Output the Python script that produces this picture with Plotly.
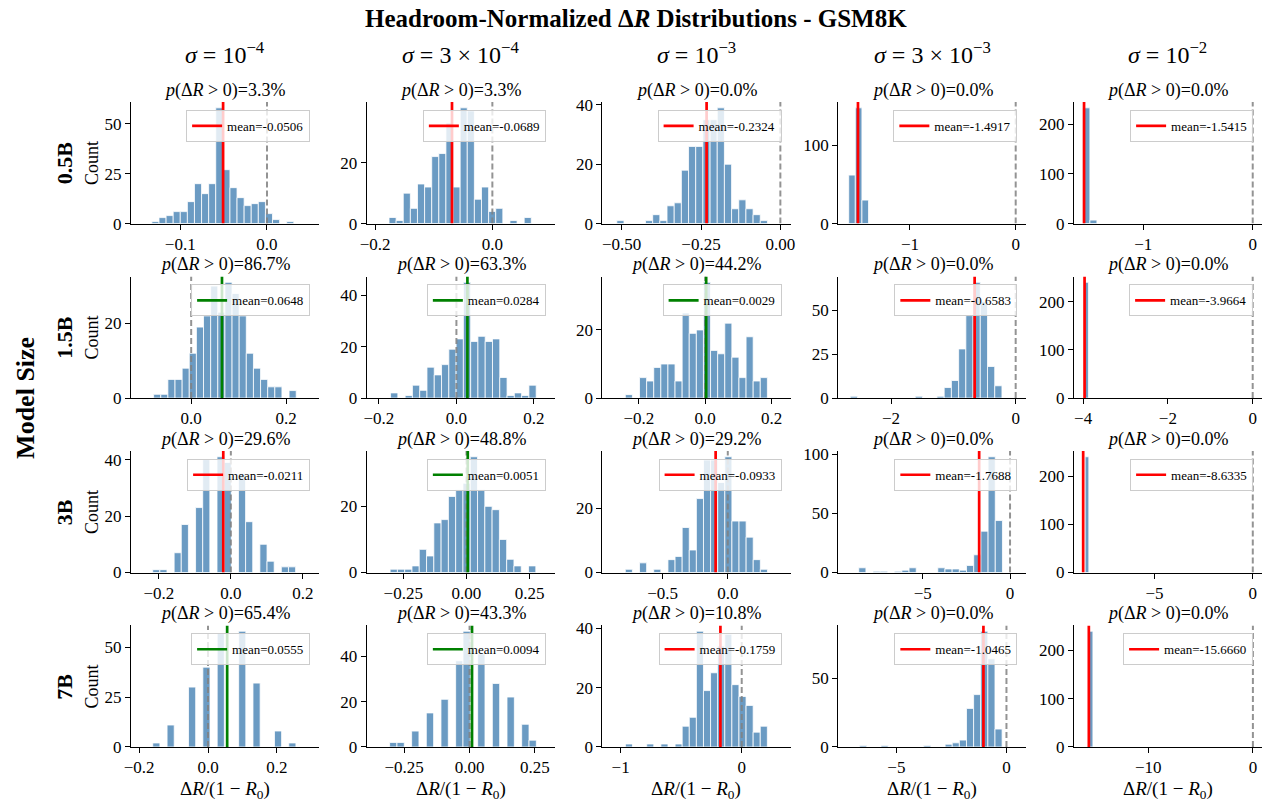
import plotly.graph_objects as go

# ---------------------------------------------------------------- data
MODELS = ["0.5B", "1.5B", "3B", "7B"]
SIGMAS = [
    "<i>σ</i> = 10<sup>−4</sup>",
    "<i>σ</i> = 3 × 10<sup>−4</sup>",
    "<i>σ</i> = 10<sup>−3</sup>",
    "<i>σ</i> = 3 × 10<sup>−3</sup>",
    "<i>σ</i> = 10<sup>−2</sup>",
]

# mean of headroom-normalized ΔR per (model, sigma)
MEAN_05B = [-0.0506, -0.0689, -0.2324, -1.4917, -1.5415]
MEAN_15B = [0.0648, 0.0284, 0.0029, -0.6583, -3.9664]
MEAN_3B = [-0.0211, 0.0051, -0.0933, -1.7688, -8.6335]
MEAN_7B = [0.0555, 0.0094, -0.1759, -1.0465, -15.6660]

# share of samples with ΔR > 0 (percent)
PPOS_05B = [3.3, 3.3, 0.0, 0.0, 0.0]
PPOS_15B = [86.7, 63.3, 44.2, 0.0, 0.0]
PPOS_3B = [29.6, 48.8, 29.2, 0.0, 0.0]
PPOS_7B = [65.4, 43.3, 10.8, 0.0, 0.0]

# histogram bins: centre of first bin, bin width, counts per bin
BIN_START_05B = [-0.1286, -0.1703, -0.504, -1.548, -1.52]
BIN_WIDTH_05B = [0.00818, 0.01214, 0.0226, 0.0625, 0.064]
COUNTS_05B = [
    [1, 3, 4, 6, 6, 11, 20, 15, 20, 58, 27, 18, 13, 9, 10, 11, 5, 2, 0, 1],
    [2, 1, 10, 5, 13, 12, 22, 23, 33, 12, 38, 37, 8, 12, 4, 5, 0, 1, 0, 2],
    [1, 0, 0, 0, 1, 3, 1, 6, 7, 18, 26, 26, 35, 35, 39, 20, 5, 8, 5, 3, 1],
    [62, 148, 30],
    [233, 7],
]

BIN_START_15B = [-0.0715, -0.1606, -0.23, -2.596, -3.92]
BIN_WIDTH_15B = [0.015, 0.0188, 0.0214, 0.1159, 0.09]
COUNTS_15B = [
    [1, 1, 5, 5, 8, 12, 19, 22, 30, 23, 31, 28, 22, 12, 8, 5, 3, 3, 0, 2],
    [2, 0, 1, 5, 3, 12, 9, 13, 19, 23, 45, 22, 24, 22, 23, 8, 1, 2, 1, 5],
    [1, 0, 6, 5, 9, 10, 10, 5, 25, 19, 20, 34, 14, 13, 22, 12, 6, 18, 5, 6],
    [1, 0, 0, 0, 0, 0, 0, 0, 0, 1, 0, 0, 1, 6, 10, 28, 47, 66, 55, 18, 7],
    [240],
]

BIN_START_3B = [-0.2073, -0.2875, -0.760, -8.46, -8.44]
BIN_WIDTH_3B = [0.01986, 0.0288, 0.0546, 0.4116, 0.19]
COUNTS_3B = [
    [1, 1, 0, 7, 17, 0, 23, 40, 0, 41, 39, 0, 35, 18, 0, 10, 4, 0, 2, 2],
    [1, 1, 1, 2, 7, 5, 15, 16, 23, 25, 27, 35, 25, 20, 19, 10, 4, 2, 0, 2],
    [1, 0, 3, 0, 1, 0, 4, 5, 14, 7, 23, 35, 35, 28, 36, 16, 16, 11, 4, 1],
    [4, 0, 1, 1, 0, 1, 2, 4, 0, 0, 0, 4, 3, 3, 2, 6, 15, 35, 98, 44],
    [240],
]

BIN_START_7B = [-0.150, -0.2918, -0.931, -6.508, -15.45]
BIN_WIDTH_7B = [0.02077, 0.02807, 0.0586, 0.3236, 0.35]
COUNTS_7B = [
    [2, 0, 11, 0, 0, 30, 0, 40, 0, 57, 0, 0, 58, 0, 32, 0, 0, 8, 0, 2],
    [2, 2, 0, 7, 0, 15, 0, 21, 0, 38, 51, 0, 41, 0, 28, 0, 22, 0, 10, 3],
    [1, 0, 0, 1, 0, 1, 0, 1, 7, 10, 39, 19, 25, 34, 38, 21, 17, 14, 5, 7],
    [1, 0, 0, 1, 0, 0, 0, 0, 0, 1, 0, 0, 2, 3, 5, 28, 38, 84, 64, 13],
    [240],
]

# axis ticks per panel (values, decimals)
XTICKS = [
    [[-0.1, 0.0], [-0.2, 0.0], [-0.5, -0.25, 0.0], [-1, 0], [-1, 0]],
    [[0.0, 0.2], [-0.2, 0.0, 0.2], [-0.2, 0.0, 0.2], [-2, 0], [-4, -2, 0]],
    [[-0.2, 0.0, 0.2], [-0.25, 0.0, 0.25], [-0.5, 0.0], [-5, 0], [-5, 0]],
    [[-0.2, 0.0, 0.2], [-0.25, 0.0, 0.25], [-1, 0], [-5, 0], [-10, 0]],
]
XDEC = [
    [1, 1, 2, 0, 0],
    [1, 1, 1, 0, 0],
    [1, 2, 1, 0, 0],
    [1, 2, 0, 0, 0],
]
YTICKS = [
    [[0, 25, 50], [0, 20], [0, 20, 40], [0, 100], [0, 100, 200]],
    [[0, 20], [0, 20, 40], [0, 20], [0, 25, 50], [0, 100, 200]],
    [[0, 20, 40], [0, 20], [0, 20], [0, 50, 100], [0, 100, 200]],
    [[0, 25, 50], [0, 20, 40], [0, 20, 40], [0, 50], [0, 100, 200]],
]

# ---------------------------------------------------------------- layout config
W, H = 1269, 805
SERIF = "Liberation Serif, Times New Roman, serif"
XRANGES = [
    [[-0.157, 0.060], [-0.2147, 0.1065], [-0.561, 0.032], [-1.68, 0.10], [-1.635, 0.085]],
    [[-0.127, 0.269], [-0.232, 0.254], [-0.31, 0.257], [-2.85, 0.17], [-4.22, 0.22]],
    [[-0.278, 0.245], [-0.395, 0.349], [-0.964, 0.482], [-9.85, 0.93], [-9.11, 0.47]],
    [[-0.224, 0.322], [-0.394, 0.326], [-1.151, 0.403], [-7.65, 0.90], [-17.1, 0.87]],
]
COL_X0 = [125 + 238 * c for c in range(5)]
AX_W = 190
ROW_TOP = [98 + 178 * r for r in range(4)]
AX_H = 124

MEANS = [MEAN_05B, MEAN_15B, MEAN_3B, MEAN_7B]
PPOS = [PPOS_05B, PPOS_15B, PPOS_3B, PPOS_7B]
BIN_START = [BIN_START_05B, BIN_START_15B, BIN_START_3B, BIN_START_7B]
BIN_WIDTH = [BIN_WIDTH_05B, BIN_WIDTH_15B, BIN_WIDTH_3B, BIN_WIDTH_7B]
COUNTS = [COUNTS_05B, COUNTS_15B, COUNTS_3B, COUNTS_7B]


def px_x(px):
    return px / W


def px_y(py):
    return 1 - py / H


def tick_text(v, d):
    s = f"{abs(v):.{d}f}"
    return ("−" if v < 0 else "") + s


fig = go.Figure()
layout = dict(
    width=W,
    height=H,
    margin=dict(l=0, r=0, t=0, b=0),
    paper_bgcolor="white",
    plot_bgcolor="white",
    barmode="overlay",
    font=dict(family=SERIF, color="black"),
    annotations=[],
)
ann = layout["annotations"]

for r in range(4):
    for c in range(5):
        idx = r * 5 + c + 1
        sfx = "" if idx == 1 else str(idx)
        xa, ya = "x" + sfx, "y" + sfx
        lg = "legend" + sfx

        counts = COUNTS[r][c]
        start, width = BIN_START[r][c], BIN_WIDTH[r][c]
        centers = [start + k * width for k in range(len(counts))]
        ytop = max(counts) * 1.05
        mean = MEANS[r][c]

        fig.add_trace(go.Bar(
            x=centers, y=counts, width=[width] * len(counts),
            marker=dict(color="rgba(70,130,180,0.8)",
                        line=dict(color="white", width=0.8)),
            xaxis=xa, yaxis=ya, showlegend=False, hoverinfo="skip",
        ))
        fig.add_trace(go.Scatter(
            x=[0, 0], y=[0, ytop], mode="lines",
            line=dict(color="rgba(128,128,128,0.85)", width=2, dash="6px,3px"),
            xaxis=xa, yaxis=ya, showlegend=False, hoverinfo="skip",
        ))
        fig.add_trace(go.Scatter(
            x=[mean, mean], y=[0, ytop], mode="lines",
            line=dict(color="green" if mean > 0 else "red", width=2.7),
            name=f"mean={mean:.4f}",
            xaxis=xa, yaxis=ya, legend=lg, showlegend=True, hoverinfo="skip",
        ))

        x0, top = COL_X0[c], ROW_TOP[r]
        axis_common = dict(
            showline=True, linecolor="black", linewidth=1,
            ticks="outside", ticklen=5, tickwidth=1, tickcolor="black",
            showgrid=False, zeroline=False, fixedrange=True,
            tickfont=dict(family=SERIF, size=17, color="black"),
        )
        layout["xaxis" + sfx] = dict(
            domain=[px_x(x0), px_x(x0 + AX_W)], anchor=ya,
            range=XRANGES[r][c],
            tickmode="array", tickvals=XTICKS[r][c],
            ticktext=[tick_text(v, XDEC[r][c]) for v in XTICKS[r][c]],
            **axis_common,
        )
        layout["yaxis" + sfx] = dict(
            domain=[px_y(top + AX_H), px_y(top)], anchor=xa,
            range=[0, ytop],
            tickmode="array", tickvals=YTICKS[r][c],
            ticktext=[str(v) for v in YTICKS[r][c]],
            **axis_common,
        )
        layout[lg] = dict(
            x=px_x(x0 + AX_W - 9), y=px_y(top + 8),
            xanchor="right", yanchor="top",
            bgcolor="rgba(255,255,255,0.8)", bordercolor="#cccccc", borderwidth=1,
            font=dict(family=SERIF, size=13, color="black"),
            itemwidth=30,
        )

        # panel subtitle
        ann.append(dict(
            text=f"<i>p</i>(Δ<i>R</i> > 0)={PPOS[r][c]:.1f}%",
            x=px_x(x0 + AX_W / 2), y=px_y(top - 12),
            xref="paper", yref="paper", xanchor="center", yanchor="middle",
            showarrow=False, font=dict(family=SERIF, size=18, color="black"),
        ))

# column headers and bottom axis titles
for c in range(5):
    ann.append(dict(
        text=SIGMAS[c], x=px_x(COL_X0[c] + AX_W / 2), y=px_y(48),
        xref="paper", yref="paper", xanchor="center", yanchor="middle",
        showarrow=False, font=dict(family=SERIF, size=24, color="black"),
    ))
    ann.append(dict(
        text="Δ<i>R</i>/(1 − <i>R</i><sub>0</sub>)",
        x=px_x(COL_X0[c] + AX_W / 2), y=px_y(800),
        xref="paper", yref="paper", xanchor="center", yanchor="middle",
        showarrow=False, font=dict(family=SERIF, size=19, color="black"),
    ))

# row labels and y-axis titles
for r in range(4):
    yc = px_y(ROW_TOP[r] + AX_H / 2)
    ann.append(dict(
        text=f"<b>{MODELS[r]}</b>", x=px_x(58), y=yc, textangle=-90,
        xref="paper", yref="paper", xanchor="center", yanchor="middle",
        showarrow=False, font=dict(family=SERIF, size=22, color="black"),
    ))
    ann.append(dict(
        text="Count", x=px_x(86), y=yc, textangle=-90,
        xref="paper", yref="paper", xanchor="center", yanchor="middle",
        showarrow=False, font=dict(family=SERIF, size=18, color="black"),
    ))

ann.append(dict(
    text="<b>Model Size</b>", x=px_x(18), y=px_y(400), textangle=-90,
    xref="paper", yref="paper", xanchor="center", yanchor="middle",
    showarrow=False, font=dict(family=SERIF, size=26, color="black"),
))
ann.append(dict(
    text="<b>Headroom-Normalized Δ<i>R</i> Distributions - GSM8K</b>",
    x=0.5, y=px_y(13), xref="paper", yref="paper",
    xanchor="center", yanchor="middle", showarrow=False,
    font=dict(family=SERIF, size=25, color="black"),
))

fig.update_layout(**layout)
fig.write_html("out.html")
